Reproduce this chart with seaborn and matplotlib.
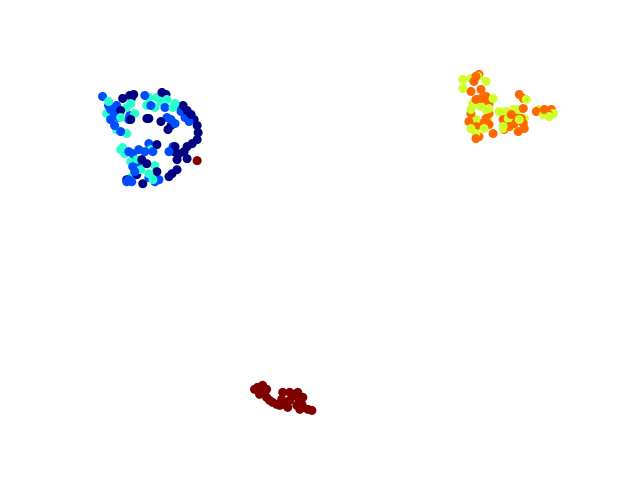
import matplotlib
matplotlib.use("Agg")
import matplotlib.pyplot as plt
import pandas as pd
import seaborn as sns

# embedding coordinates, grouped by label
dim1_c0 = [124, 131, 135, 133, 122, 132, 148, 163, 167, 184, 188, 192, 195, 198, 199, 150, 162, 172, 169,
           158, 175, 180, 185, 188, 193, 198, 178, 188, 178, 173, 170, 158, 143, 148, 138, 144, 128, 176]
dim2_c0 = [97, 94, 93, 96, 109, 118, 117, 91, 93, 104, 109, 113, 118, 124, 131, 117, 120, 124, 128,
           143, 150, 152, 150, 145, 142, 138, 158, 157, 168, 172, 175, 170, 158, 162, 173, 182, 178, 145]
dim1_c1 = [104, 110, 112, 116, 120, 116, 122, 130, 131, 146, 152, 166, 168, 172, 176, 182, 186, 190, 178,
           150, 146, 154, 130, 134, 140, 136, 130, 128, 133, 150, 156, 160, 174, 170, 140, 134, 120, 118, 112]
dim2_c1 = [95, 104, 108, 112, 116, 124, 130, 118, 114, 94, 104, 106, 116, 118, 122, 110, 116, 120, 104,
           142, 150, 150, 150, 152, 166, 170, 178, 180, 180, 176, 180, 178, 145, 150, 148, 165, 108, 104, 118]
dim1_c2 = [110, 108, 120, 128, 132, 136, 150, 158, 162, 168, 176, 174, 148, 156, 124, 126, 122, 132, 138,
           152, 156, 150, 154, 132, 142, 118, 128, 122]
dim2_c2 = [100, 112, 112, 106, 102, 112, 96, 96, 100, 98, 102, 106, 104, 106, 146, 152, 148, 160, 158,
           148, 164, 172, 178, 176, 168, 128, 132, 116]
dim1_c3 = [462, 470, 477, 485, 462, 492, 472, 480, 470, 485, 488, 475, 487, 470, 483, 475, 502,
           505, 512, 517, 507, 518, 523, 502, 510, 537, 542, 548, 552, 498, 525]
dim2_c3 = [78, 77, 75, 80, 87, 97, 102, 105, 108, 108, 107, 118, 117, 127, 127, 132, 125,
           110, 108, 108, 117, 118, 117, 127, 125, 108, 113, 115, 112, 110, 98]
dim1_c4 = [475, 473, 478, 470, 480, 485, 480, 475, 482, 488, 470, 488, 485, 480, 468, 475, 488, 492, 475, 478,
           518, 522, 522, 510, 515, 520, 502, 513, 522, 508, 503, 517, 523, 535, 543, 550, 547]
dim2_c4 = [75, 80, 73, 90, 88, 95, 97, 98, 101, 103, 112, 112, 117, 122, 120, 125, 123, 132, 137, 135,
           93, 97, 107, 113, 115, 117, 118, 122, 122, 125, 128, 130, 127, 110, 108, 108, 113]
dim1_c5 = [198, 255, 258, 263, 267, 260, 265, 267, 270, 273, 277, 280, 283, 287, 290, 283, 290, 293, 297, 298,
           300, 302, 303, 308, 312, 300, 297, 288, 282, 298, 303]
dim2_c5 = [159, 387, 385, 383, 387, 392, 390, 395, 398, 400, 402, 403, 402, 400, 398, 390, 390, 392, 393, 395,
           398, 402, 405, 407, 408, 407, 403, 405, 397, 390, 395]

dims1 = [dim1_c0, dim1_c1, dim1_c2, dim1_c3, dim1_c4, dim1_c5]
dims2 = [dim2_c0, dim2_c1, dim2_c2, dim2_c3, dim2_c4, dim2_c5]

rows = []
for lab, (xs, ys) in enumerate(zip(dims1, dims2)):
    for a, b in zip(xs, ys):
        rows.append((a, b, lab))
df = pd.DataFrame(rows, columns=["dim1", "dim2", "label"])
# mix the draw order so the classes overlap like a plain scatter
df = df.iloc[sorted(range(len(df)), key=lambda i: (i * 37) % len(df))]

fig, ax = plt.subplots(figsize=(6.4, 4.8), dpi=100)
sns.scatterplot(data=df, x="dim1", y="dim2", hue="label", palette=plt.get_cmap("jet"), hue_norm=(0, 5),
                s=42, linewidth=0, legend=False, ax=ax)
ax.invert_yaxis()
ax.axis("off")

plt.savefig("out.png", dpi=100)
